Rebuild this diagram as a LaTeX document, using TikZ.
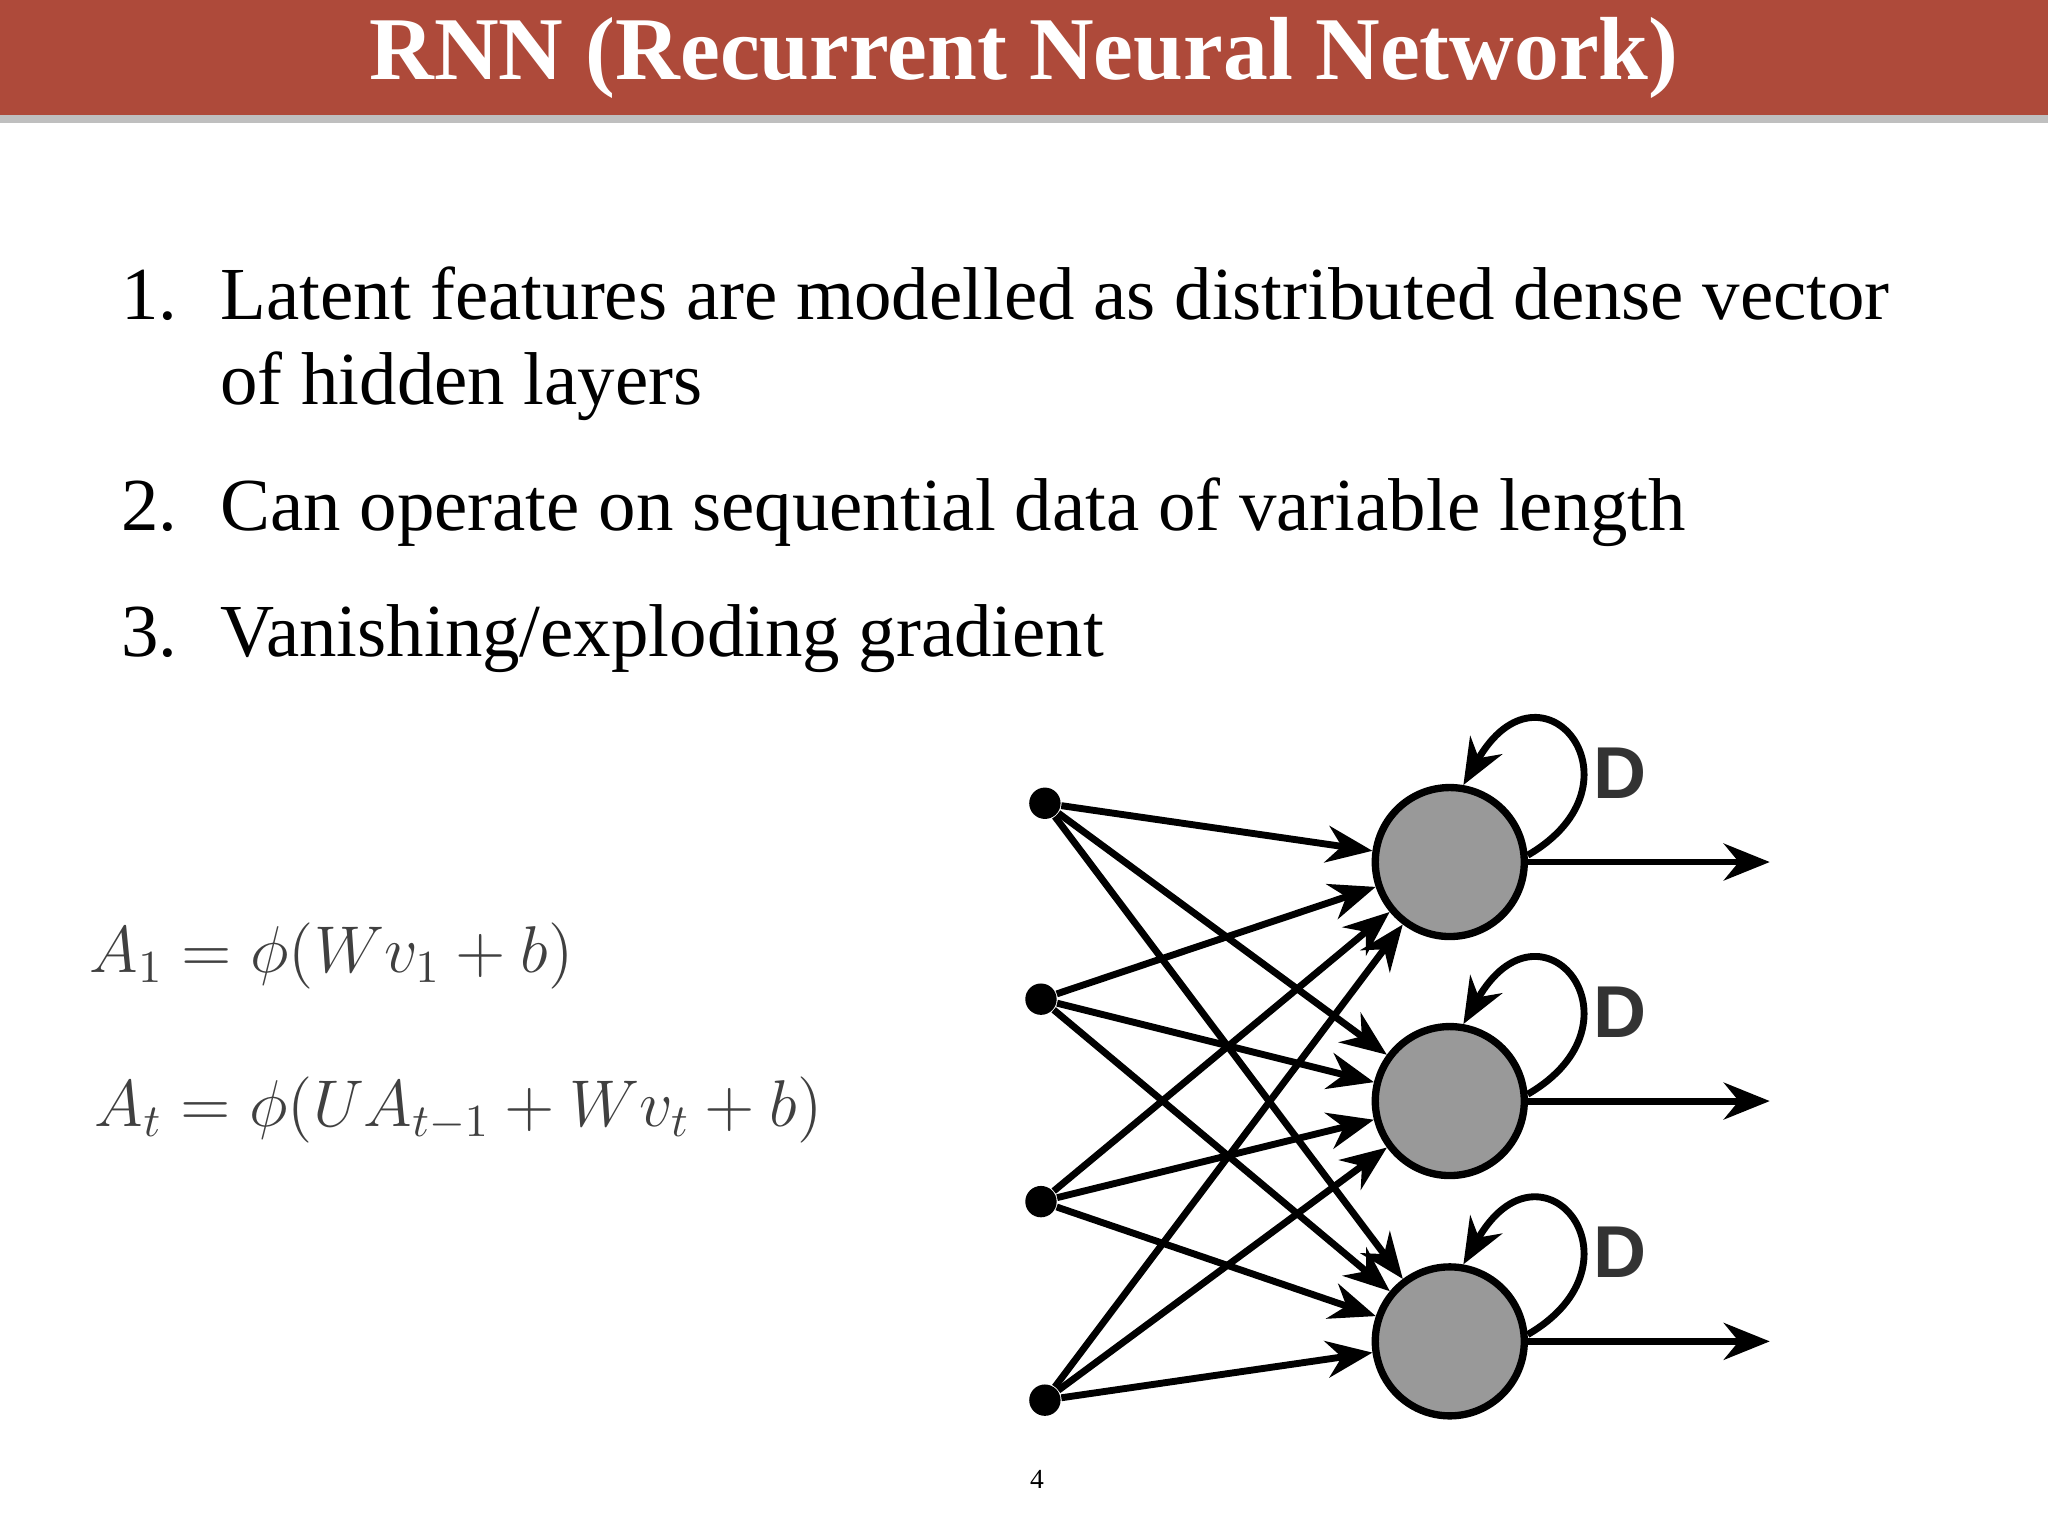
\documentclass[tikz,border=0pt]{standalone}
\usepackage{fontspec}
\usepackage{amsmath}
\setmainfont{Liberation Serif}
\newfontfamily\dfont{Liberation Sans}
\usetikzlibrary{arrows.meta,calc}
\definecolor{barred}{HTML}{AE4A3A}
\definecolor{eqgray}{HTML}{404040}
\begin{document}
\begin{tikzpicture}[x=0.01cm,y=-0.01cm,
  inp/.style={circle,fill=black,inner sep=0,minimum size=0.24cm},
  unit/.style={circle,draw=black,line width=1.6pt,fill=black!40,minimum size=1.14cm,inner sep=0},
  con/.style={line width=1.5pt,-{Stealth[length=10pt,width=8pt]}},
  dl/.style={font=\dfont\fontsize{16}{16}\selectfont\bfseries,text=black!80},
  item/.style={anchor=base west,inner sep=0,font=\fontsize{16.3}{20}\selectfont}]
\useasboundingbox (0,0) rectangle (1568,1176);
\fill[black!25] (0,88) rectangle (1568,94);
\fill[barred] (0,0) rectangle (1568,88);
\node[text=white,font=\fontsize{19.5}{24}\selectfont\bfseries] (title) at (784,44) {RNN (Recurrent Neural Network)};
\node[item] (n1) at (92,245) {1.};
\node[item] (t1) at (168,245) {Latent features are modelled as distributed dense vector};
\node[item] (t1b) at (168,310) {of hidden layers};
\node[item] (n2) at (92,406) {2.};
\node[item] (t2) at (168,406) {Can operate on sequential data of variable length};
\node[item] (n3) at (92,503) {3.};
\node[item] (t3) at (168,503) {Vanishing/exploding gradient};
\node[anchor=west,inner sep=0,text=eqgray,font=\fontsize{14.5}{18}\selectfont] (e1) at (68,732) {$A_1 = \phi(Wv_1 + b)$};
\node[anchor=west,inner sep=0,text=eqgray,font=\fontsize{14.5}{18}\selectfont] (e2) at (72,850) {$A_t = \phi(UA_{t-1} + Wv_t + b)$};
\node[font=\fontsize{6}{7}\selectfont] (pg) at (794,1133) {4};
\node[inp] (i1) at (800,615) {};
\node[inp] (i2) at (797,765) {};
\node[inp] (i3) at (797,920) {};
\node[inp] (i4) at (800,1072) {};
\node[unit] (h1) at (1110,660) {};
\node[unit] (h2) at (1110,843) {};
\node[unit] (h3) at (1110,1027) {};
\foreach \i in {i1,i2,i3,i4}{\foreach \h in {h1,h2,h3}{\draw[con] (\i) -- (\h);}}
\foreach \h/\k in {h1/1,h2/2,h3/3}{
  \coordinate (o\k) at ($(\h)+(245,0)$);
  \draw[con] (\h.east) -- (o\k);
  \draw[con] (\h.5) .. controls ++(95,-55) and ++(60,-105) .. (\h.80);
  \node[dl] (d\k) at ($(\h)+(130,-68)$) {D};
}
\end{tikzpicture}
\end{document}
